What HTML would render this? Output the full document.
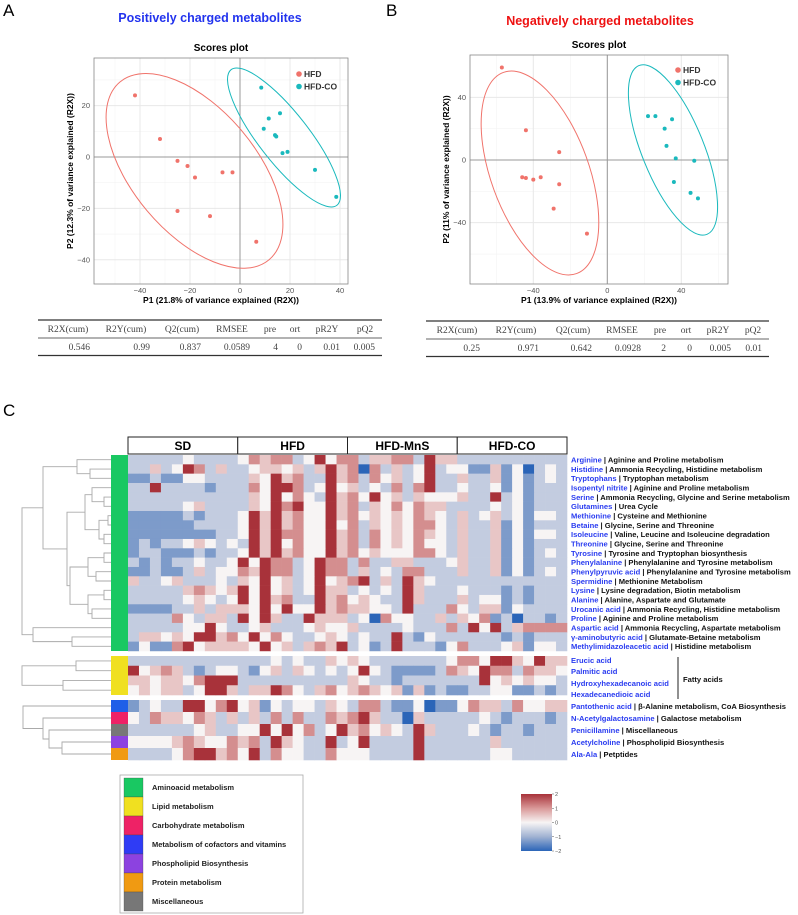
<!DOCTYPE html>
<html><head><meta charset="utf-8"><style>
html,body{margin:0;padding:0;background:#fff;}
svg{display:block;font-family:"Liberation Sans",sans-serif;}
</style></head><body>
<svg id="fig" width="798" height="915" viewBox="0 0 798 915" xmlns="http://www.w3.org/2000/svg">
<text x="3" y="16" font-size="17">A</text>
<text x="386" y="16" font-size="17">B</text>
<text x="3" y="416" font-size="17">C</text>
<text x="210" y="22" font-size="12.5" font-weight="bold" fill="#2233ee" text-anchor="middle">Positively charged metabolites</text>
<text x="600" y="25" font-size="12.5" font-weight="bold" fill="#ee1111" text-anchor="middle">Negatively charged metabolites</text>
<g id="plotA"></g>
<g id="plotB"></g>
<g id="tables"></g>
<g id="heat"></g>
</svg>
<script>
// ---------- Scatter data ----------
const hfdA_x=[-42,-32,-25,-21,-18,-25,-7,-3,-12,6.5];
const hfdA_y=[24,7,-1.5,-3.5,-8,-21,-6,-6,-23,-33];
const coA_x=[8.5,11.5,16,9.5,14,14.5,17,19,30,38.5];
const coA_y=[27,15,17,11,8.5,8,1.5,2,-5,-15.5];
const hfdB_x=[-57,-44,-26,-46,-44,-40,-36,-26,-29,-11];
const hfdB_y=[59,19,5,-11,-11.5,-12.5,-11,-15.5,-31,-47];
const coB_x=[22,26,35,31,32,37,47,36,45,49];
const coB_y=[28,28,26,20,9,1,-0.5,-14,-21,-24.5];
const ticksA_x=[-40,-20,0,20,40];
const ticksA_y=[-40,-20,0,20];
const ticksB_x=[-40,0,40];
const ticksB_y=[-40,0,40];
// ---------- Table data ----------
const tableHeaders=["R2X(cum)","R2Y(cum)","Q2(cum)","RMSEE","pre","ort","pR2Y","pQ2"];
const tableA=["0.546","0.99","0.837","0.0589","4","0","0.01","0.005"];
const tableB=["0.25","0.971","0.642","0.0928","2","0","0.005","0.01"];
// ---------- Heatmap data (B=-2,b=-1.3,l=-0.6,w=0,p=0.5,r=1.1,R=2) ----------
const groups=["SD","HFD","HFD-MnS","HFD-CO"];
const aminoNames=["Arginine","Histidine","Tryptophans","Isopentyl nitrite","Serine","Glutamines","Methionine","Betaine","Isoleucine","Threonine","Tyrosine","Phenylalanine","Phenylpyruvic acid","Spermidine","Lysine","Alanine","Urocanic acid","Proline","Aspartic acid","γ-aminobutyric acid","Methylimidazoleacetic acid"];
const aminoPaths=["Aginine and Proline metabolism","Ammonia Recycling, Histidine metabolism","Tryptophan metabolism","Aginine and Proline metabolism","Ammonia Recycling, Glycine and Serine metabolism","Urea Cycle","Cysteine and Methionine","Glycine, Serine and Threonine","Valine, Leucine and Isoleucine degradation","Glycine, Serine and Threonine"," Tyrosine and Tryptophan biosynthesis","Phenylalanine and Tyrosine metabolism","Phenylalanine and Tyrosine metabolism","Methionine Metabolism","Lysine degradation, Biotin metabolism","Alanine, Aspartate and Glutamate","Ammonia Recycling, Histidine metabolism","Aginine and Proline metabolism","Ammonia Recycling, Aspartate metabolism","Glutamate-Betaine metabolism","Histidine metabolism"];
const aminoCodes=[
"lllllwllll"+"wrprrlwRwr"+"rlpprrlRpp"+"llllllllll",
"llplwRrlpl"+"lwppwplpRp"+"rBrlplwRlw"+"wbbpbwBlwl",
"bblbbwwlll"+"lpwRprllRp"+"rlrwplwRll"+"pllpbwblwl",
"llRllllbll"+"lrwRRrlwRw"+"plwlrlrRll"+"wllwbwblll",
"llllllllll"+"lpwRwrwlRp"+"rwRwplpwww"+"pllRlwblll",
"lllllwplll"+"lpwRrRwwRp"+"rlpwrwrppl"+"lllwlwblll",
"bbbbblblll"+"wRpRprwwRp"+"rwpwpwrpwl"+"plwplwbwwl",
"bbbbbbllll"+"wRpRprwwRw"+"rlpwpwrrwl"+"pllpbwblllw",
"bbbbbbbbll"+"wRpRrrwwRp"+"rlrwpwrpwl"+"pllpbwbwwl",
"blbllwpwlw"+"lRpRwrwwRp"+"rlrwpwrwwl"+"pllpbwblll",
"bllbbblbll"+"wRpRprwwRp"+"rwpwwwrrwl"+"pllpbwblwl",
"lblbllwllw"+"RwRrrlwRrr"+"lrllpplllw"+"pllpbwblll",
"bblbblplw"+"w"+"rpRrrlwRrr"+"lplwlrrlll"+"pllpbwblwl",
"pllwplllwl"+"pwRwplwRwp"+"rRlplRpwll"+"llllllllll",
"lllllprpwp"+"RwRwplwRpp"+"lwlwlRplll"+"wlllblblll",
"lllllwpwlw"+"RwRprllRpr"+"wpwllRplll"+"plwwblblll",
"bbbbllplp"+"p"+"pwRwRwwRpr"+"ppwwlRlllr"+"wlppbwllll",
"llllrwlppl"+"RwRpllRppp"+"lwBrwwllpl"+"pwrblBllbl",
"lllllwwRwl"+"lwplllwpww"+"pllllwlllr"+"lRwRlprrrr",
"lppwpwRRpr"+"wRwrwllwpw"+"lwllRlbwll"+"llllblblll",
"bwbbrRwppp"+"pwRwplprpR"+"lwblRlllbw"+"rlllwpbwwl"];
const lipidNames=["Erucic acid","Palmitic acid","Hydroxyhexadecanoic acid","Hexadecanedioic acid"];
const lipidCodes=[
"llllllllll"+"lllwlwllpw"+"pwlllllllw"+"rrwRRpwRpp",
"Rwprplblww"+"lbwplpwlwl"+"wRwlbbbblr"+"pwRrrlrppw",
"ppwppwrRRR"+"llllllllll"+"pwllblllll"+"llRwpwpwwl",
"wpwpplwRRp"+"lppRrwlprw"+"prpwpbpblb"+"bllwwbblbl"];
const otherNames=["Pantothenic acid","N-Acetylgalactosamine","Penicillamine","Acetylcholine","Ala-Ala"];
const otherPaths=["β-Alanine metabolism, CoA Biosynthesis","Galactose metabolism","Miscellaneous","Phospholipid Biosynthesis","Petptides"];
const otherCodes=[
"blwllRRwrR"+"wpbwlwwlpw"+"lrrlbbwBbb"+"wrpplrwwpp",
"wlrppwrplp"+"lplrlrllrp"+"rRpllBplll"+"llwlblllbl",
"llllllwpll"+"wwRwRwrlwR"+"prwpwlRpll"+"lwlbllblll",
"wwwwprpwwr"+"prlRpwllRl"+"wRllllRlll"+"lllplllll l",
"llllwrRRpr"+"wRlrwwllrw"+"wwllllRlll"+"lllwwlllll"];
const legendLabels=["Aminoacid metabolism","Lipid metabolism","Carbohydrate metabolism","Metabolism of cofactors and vitamins","Phospholipid Biosynthesis","Protein metabolism","Miscellaneous"];
const legendColors=["#19c862","#f0e020","#ee2266","#2f3cf5","#8c42e0","#f09a12","#777777"];
const otherSideColors=["#1f5fe8","#ee2266","#777777","#8c42e0","#f09a12"];
const colorbarTicks=[2,1,0,-1,-2];

const NS="http://www.w3.org/2000/svg";
function mk(parent,tag,attrs,text){const e=document.createElementNS(NS,tag);for(const k in attrs)e.setAttribute(k,attrs[k]);if(text!==undefined)e.textContent=text;parent.appendChild(e);return e;}

// ---------- Scatter plots ----------
function scatter(g,cfg){
  const sx=v=>cfg.x0px+(v-cfg.x0)*cfg.kx, sy=v=>cfg.y0px-(v-cfg.y0)*cfg.ky;
  const L=cfg.left,R=cfg.right,T=cfg.top,B=cfg.bottom;
  const bg=mk(g,'rect',{x:L,y:T,width:R-L,height:B-T,fill:'#fff'});
  
  
  cfg.minorX.forEach(v=>{const l=mk(g,'line',{x1:sx(v),x2:sx(v),y1:T,y2:B,stroke:'#f3f3f3','stroke-width':0.6});});
  cfg.minorY.forEach(v=>{const l=mk(g,'line',{x1:L,x2:R,y1:sy(v),y2:sy(v),stroke:'#f3f3f3','stroke-width':0.6});});
  cfg.ticksX.forEach(v=>{const l=mk(g,'line',{x1:sx(v),x2:sx(v),y1:T,y2:B,stroke:'#e8e8e8','stroke-width':1});
    const t=mk(g,'text',{x:sx(v),y:B+9,'font-size':7.5,fill:'#555','text-anchor':'middle'},v<0?'−'+(-v):String(v));});
  cfg.ticksY.forEach(v=>{const l=mk(g,'line',{x1:L,x2:R,y1:sy(v),y2:sy(v),stroke:'#e8e8e8','stroke-width':1});
    const t=mk(g,'text',{x:L-4,y:sy(v)+2.5,'font-size':7.5,fill:'#555','text-anchor':'end'},v<0?'−'+(-v):String(v));});
  const zx=mk(g,'line',{x1:sx(0),x2:sx(0),y1:T,y2:B,stroke:'#999','stroke-width':1});
  const zy=mk(g,'line',{x1:L,x2:R,y1:sy(0),y2:sy(0),stroke:'#999','stroke-width':1});
  cfg.ell.forEach(e=>{const el=mk(g,'ellipse',{cx:sx(e.cx),cy:sy(e.cy),rx:e.a,ry:e.b,fill:'none',stroke:e.c,'stroke-width':1,transform:`rotate(${e.ang} ${sx(e.cx)} ${sy(e.cy)})`});});
  cfg.hx.forEach((v,i)=>{const c=mk(g,'circle',{cx:sx(v),cy:sy(cfg.hy[i]),r:2,fill:'#f0736b'});});
  cfg.cx.forEach((v,i)=>{const c=mk(g,'circle',{cx:sx(v),cy:sy(cfg.cy[i]),r:2,fill:'#1ab9bd'});});
  const br=mk(g,'rect',{x:L,y:T,width:R-L,height:B-T,fill:'none',stroke:'#888','stroke-width':0.8});
  const tt=mk(g,'text',{x:(L+R)/2,y:T-7,'font-size':10,'font-weight':'bold','text-anchor':'middle'},'Scores plot');
  const xt=mk(g,'text',{x:(L+R)/2,y:B+19,'font-size':8.5,'font-weight':'bold','text-anchor':'middle'},cfg.xlab);
  const yx=L-21, yy=(T+B)/2;
  const yt=mk(g,'text',{x:yx,y:yy,'font-size':8.5,'font-weight':'bold','text-anchor':'middle',transform:`rotate(-90 ${yx} ${yy})`},cfg.ylab);
  const l1=mk(g,'circle',{cx:cfg.legX,cy:cfg.legY,r:2.8,fill:'#f0736b'});
  const t1=mk(g,'text',{x:cfg.legX+5,y:cfg.legY+3,'font-size':8.5,'font-weight':'bold',fill:'#333'},'HFD');
  const l2=mk(g,'circle',{cx:cfg.legX,cy:cfg.legY+12.5,r:2.8,fill:'#1ab9bd'});
  const t2=mk(g,'text',{x:cfg.legX+5,y:cfg.legY+15.5,'font-size':8.5,'font-weight':'bold',fill:'#333'},'HFD-CO');
}
scatter(document.getElementById('plotA'),{left:94,right:348,top:58,bottom:284,x0:0,x0px:240,kx:2.5,y0:0,y0px:157,ky:2.57,
  ticksX:ticksA_x,ticksY:ticksA_y,minorX:[-50,-30,-10,10,30],minorY:[-30,-10,10,30],
  hx:hfdA_x,hy:hfdA_y,cx:coA_x,cy:coA_y,
  ell:[{cx:-18.2,cy:-5.4,a:116,b:62,ang:50,c:'#f0736b'},{cx:17.6,cy:7.6,a:86,b:25,ang:52,c:'#1ab9bd'}],
  xlab:'P1 (21.8% of variance explained (R2X))',ylab:'P2 (12.3% of variance explained (R2X))',legX:299,legY:74});
scatter(document.getElementById('plotB'),{left:470,right:728,top:55,bottom:284,x0:0,x0px:607.3,kx:1.85,y0:0,y0px:160,ky:1.567,
  ticksX:ticksB_x,ticksY:ticksB_y,minorX:[-60,-20,20,60],minorY:[-60,-20,20],
  hx:hfdB_x,hy:hfdB_y,cx:coB_x,cy:coB_y,
  ell:[{cx:-36.4,cy:-8.3,a:107,b:49,ang:70,c:'#f0736b'},{cx:35.5,cy:6.4,a:91,b:31,ang:68,c:'#1ab9bd'}],
  xlab:'P1 (13.9% of variance explained (R2X))',ylab:'P2 (11% of variance explained (R2X))',legX:678,legY:70});

// ---------- Tables ----------
function table(g,x1,x2,top,hc,ve,vals,nm){
  const lt=mk(g,'line',{x1:x1,x2:x2,y1:top,y2:top,stroke:'#333','stroke-width':1.2});
  const lm=mk(g,'line',{x1:x1,x2:x2,y1:top+18,y2:top+18,stroke:'#333','stroke-width':0.7});
  const lb=mk(g,'line',{x1:x1,x2:x2,y1:top+35.5,y2:top+35.5,stroke:'#333','stroke-width':1.2});
  tableHeaders.forEach((h,i)=>{const t=mk(g,'text',{x:hc[i],y:top+12,'font-size':9.5,'font-family':'Liberation Serif, serif',fill:'#444','text-anchor':'middle'},h);});
  vals.forEach((v,i)=>{const t=mk(g,'text',{x:ve[i],y:top+30,'font-size':9.5,'font-family':'Liberation Serif, serif',fill:'#444','text-anchor':'end'},v);});
}
const tg=document.getElementById('tables');
table(tg,38,382,320,[68,126,182,232,270,295,327,365],[90,150,201,250,278,302,340,375],tableA,'table-a');
table(tg,426,769,321,[457,516,573,622,660,686,718,753],[480,539,592,641,666,692,731,762],tableB,'table-b');

// ---------- Heatmap ----------
const hg=document.getElementById('heat');
const codeVal={B:-2,b:-1.3,l:-0.6,w:0,p:0.5,r:1.1,R:2};
const stops=[[-2,[43,101,184]],[-1,[160,178,210]],[0,[247,244,244]],[1,[217,152,152]],[2,[168,50,58]]];
function col(v){v=Math.max(-2,Math.min(2,v));for(let i=0;i<4;i++){const a=stops[i],b=stops[i+1];if(v<=b[0]){const t=(v-a[0])/(b[0]-a[0]);return 'rgb('+a[1].map((c,k)=>Math.round(c+(b[1][k]-c)*t)).join(',')+')';}}return 'rgb(168,50,58)';}
const HX0=128,HX1=567,NC=40,CW=(HX1-HX0)/NC;
function block(codes,y0,pitch){codes.forEach((s,r)=>{const clean=s.replace(/ /g,'');for(let c=0;c<NC;c++){const ch=clean[c]||'w';const v=codeVal[ch]!==undefined?codeVal[ch]:0;
  const rc=mk(hg,'rect',{x:HX0+c*CW,y:y0+r*pitch,width:CW+0.3,height:pitch+0.3,fill:col(v)});
  
  }});}
block(aminoCodes,455,9.33);
block(lipidCodes,656,9.75);
block(otherCodes,700,12);
// header boxes
groups.forEach((gname,i)=>{const x=HX0+i*10*CW;const r=mk(hg,'rect',{x:x,y:437,width:10*CW,height:17,fill:'#fff',stroke:'#222','stroke-width':1});
  const t=mk(hg,'text',{x:x+5*CW,y:450,'font-size':12,'font-weight':'bold','text-anchor':'middle'},gname);});
// side color bars
{const s1=mk(hg,'rect',{x:111,y:455,width:17,height:196,fill:'#19c862'});
 const s2=mk(hg,'rect',{x:111,y:656,width:17,height:39,fill:'#f0e020'});}
otherSideColors.forEach((c,i)=>{const s=mk(hg,'rect',{x:111,y:700+i*12,width:17,height:12,fill:c});});
// row labels
function label(y,name,path){const t=mk(hg,'text',{x:571,y:y,'font-size':7.6,'font-weight':'bold'});
  const a=mk(t,'tspan',{fill:'#2a3cf0'},name);const b=mk(t,'tspan',{fill:'#111'},path?' | '+path:'');}
aminoNames.forEach((n,i)=>label(455+i*9.33+7.5,n,aminoPaths[i]));
lipidNames.forEach((n,i)=>label([663,674,686,697][i],n,''));
otherNames.forEach((n,i)=>label(700+i*12+9,n,otherPaths[i]));
{const bl=mk(hg,'line',{x1:678,x2:678,y1:657,y2:699,stroke:'#222','stroke-width':1});
 const ft=mk(hg,'text',{x:683,y:682,'font-size':7.6,'font-weight':'bold',fill:'#111'},'Fatty acids');}
// dendrograms
function dendro(leafY,merges){const nodes=leafY.map(y=>({x:111,y:y}));
  merges.forEach(m=>{const a=nodes[m[0]],b=nodes[m[1]],x=m[2];
    const p=mk(hg,'path',{d:`M${a.x},${a.y}H${x}V${b.y}H${b.x}`,fill:'none',stroke:'#aaa','stroke-width':0.9});
    
    
    nodes.push({x:x,y:(a.y+b.y)/2});});}
dendro(aminoNames.map((_,i)=>455+i*9.33+4.7),[[1,2,90],[0,21,77],[4,5,104],[3,23,92],[6,7,108],[8,9,104],[25,26,99],[24,27,85],[10,11,104],[12,13,96],[29,30,88],[14,15,104],[16,17,92],[32,33,88],[31,34,70],[28,35,67],[22,36,43],[19,20,72],[18,38,33],[37,39,22]]);
dendro(lipidNames.map((_,i)=>656+i*9.75+4.9),[[0,1,76],[2,3,63],[4,5,22]]);
dendro(otherNames.map((_,i)=>700+i*12+6),[[3,4,62],[2,5,49],[1,6,43],[0,7,23]]);
// legend
{const lb=mk(hg,'rect',{x:120,y:775,width:183,height:138,fill:'#fff',stroke:'#aaa','stroke-width':0.8});}
legendLabels.forEach((n,i)=>{const r=mk(hg,'rect',{x:124,y:778+i*19,width:19,height:19,fill:legendColors[i],stroke:'#444','stroke-width':0.3});
  const t=mk(hg,'text',{x:152,y:790+i*19,'font-size':7.5,'font-weight':'bold',fill:'#222'},n);});
// colorbar
{const defs=mk(hg,'defs',{});const lg=mk(defs,'linearGradient',{id:'cbg',x1:0,y1:0,x2:0,y2:1});
 [[0,'rgb(168,50,58)'],[0.25,'rgb(217,152,152)'],[0.5,'rgb(247,244,244)'],[0.75,'rgb(160,178,210)'],[1,'rgb(43,101,184)']].forEach(s=>mk(lg,'stop',{offset:s[0],'stop-color':s[1]}));
 const cb=mk(hg,'rect',{x:521,y:794,width:31,height:57,fill:'url(#cbg)'});}
colorbarTicks.forEach(v=>{const y=794+(2-v)/4*57;const t=mk(hg,'text',{x:555,y:y+2,'font-size':5.5,fill:'#555'},v<0?'−'+(-v):String(v));
 const l=mk(hg,'line',{x1:552,x2:554,y1:y,y2:y,stroke:'#555','stroke-width':0.5});});
</script>
</body></html>
